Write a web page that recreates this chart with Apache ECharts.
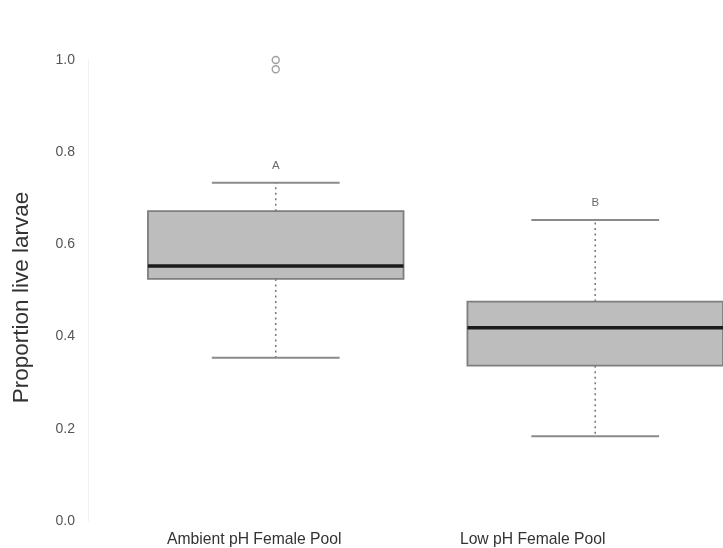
<!DOCTYPE html>
<html>
<head>
<meta charset="utf-8">
<script src="https://cdn.jsdelivr.net/npm/echarts@6/dist/echarts.min.js"></script>
<style>
  html, body { margin: 0; padding: 0; background: #ffffff; }
  #chart { width: 723px; height: 548px; }
</style>
</head>
<body>
<div id="chart"></div>
<script>
// Proportion of live larvae by female pool treatment (box-and-whisker summary)
const groups = ['Ambient pH Female Pool', 'Low pH Female Pool'];
const groupPos = [1, 2];
const whiskerLow = [0.354, 0.184];
const quartile1 = [0.525, 0.337];
const medians = [0.553, 0.419];
const quartile3 = [0.672, 0.476];
const whiskerHigh = [0.734, 0.653];

// Outlying observations
const outlierGroup = [0, 0];
const outlierValue = [1.0, 0.98];

// Significance letters placed above each group
const letterText = ['A', 'B'];
const letterValue = [0.77, 0.691];

const yTicks = [0, 0.2, 0.4, 0.6, 0.8, 1.0];

const boxData = groups.map((g, i) => [groupPos[i], whiskerLow[i], quartile1[i], medians[i], quartile3[i], whiskerHigh[i]]);
const outlierData = outlierValue.map((v, i) => [groupPos[outlierGroup[i]], v]);
const letterData = letterValue.map((v, i) => [groupPos[i], v]);

function renderBox(params, api) {
  const pos = api.value(0);
  const lo = api.coord([pos, api.value(1)]);
  const q1 = api.coord([pos, api.value(2)]);
  const med = api.coord([pos, api.value(3)]);
  const q3 = api.coord([pos, api.value(4)]);
  const hi = api.coord([pos, api.value(5)]);
  const boxW = api.size([0.8, 0])[0];
  const capW = boxW * 0.5;
  const cx = q1[0];
  const whiskerStyle = { stroke: '#7c7c7c', lineWidth: 1.6, lineDash: [2, 3.5] };
  const capStyle = { stroke: '#8a8a8a', lineWidth: 2 };
  return {
    type: 'group',
    children: [
      { type: 'line', shape: { x1: cx, y1: q3[1], x2: cx, y2: hi[1] }, style: whiskerStyle },
      { type: 'line', shape: { x1: cx, y1: q1[1], x2: cx, y2: lo[1] }, style: whiskerStyle },
      { type: 'line', shape: { x1: cx - capW / 2, y1: hi[1], x2: cx + capW / 2, y2: hi[1] }, style: capStyle },
      { type: 'line', shape: { x1: cx - capW / 2, y1: lo[1], x2: cx + capW / 2, y2: lo[1] }, style: capStyle },
      {
        type: 'rect',
        shape: { x: cx - boxW / 2, y: q3[1], width: boxW, height: q1[1] - q3[1] },
        style: { fill: '#bdbdbd', stroke: '#7e7e7e', lineWidth: 1.8 }
      },
      { type: 'line', shape: { x1: cx - boxW / 2, y1: med[1], x2: cx + boxW / 2, y2: med[1] }, style: { stroke: '#1c1c1c', lineWidth: 3.5 } }
    ]
  };
}

const chart = echarts.init(document.getElementById('chart'), null, { renderer: 'canvas' });
chart.setOption({
  backgroundColor: '#ffffff',
  animation: false,
  grid: { left: 116, right: 0, top: 60, bottom: 26.3, containLabel: false },
  xAxis: {
    type: 'value',
    // the second group's box runs to the right edge of the plot
    min: 0.5,
    max: 2.4,
    axisLine: { show: false },
    axisTick: { show: false },
    splitLine: { show: false },
    axisLabel: {
      margin: 11,
      customValues: groupPos,
      formatter: v => {
        const i = groupPos.indexOf(v);
        return i === 0 ? '{a|' + groups[0] + '}' : '{b|' + groups[1] + '}';
      },
      rich: {
        a: { fontFamily: 'Liberation Sans, Arial, sans-serif', fontSize: 15.7, color: '#333333', padding: [0, 43, 0, 0] },
        b: { fontFamily: 'Liberation Sans, Arial, sans-serif', fontSize: 15.7, color: '#333333', padding: [0, 125, 0, 0] }
      }
    }
  },
  yAxis: {
    type: 'value',
    min: 0,
    max: 1,
    interval: 0.2,
    offset: 28,
    name: 'Proportion live larvae',
    nameLocation: 'middle',
    nameGap: 55,
    nameTextStyle: { fontFamily: 'Liberation Sans, Arial, sans-serif', fontSize: 22.5, color: '#333333', padding: [0, 14, 0, 0] },
    axisLine: { show: true, lineStyle: { color: '#f1f1f1', width: 1 } },
    axisTick: { show: false },
    splitLine: { show: false },
    axisLabel: {
      margin: 13,
      fontFamily: 'Liberation Sans, Arial, sans-serif',
      fontSize: 14,
      color: '#555555',
      formatter: v => (yTicks.some(t => Math.abs(t - v) < 1e-9) ? v.toFixed(1) : '')
    }
  },
  series: [
    {
      type: 'custom',
      renderItem: renderBox,
      encode: { x: 0, y: [1, 2, 3, 4, 5] },
      data: boxData,
      clip: false,
      silent: true
    },
    {
      type: 'scatter',
      data: outlierData,
      symbol: 'circle',
      symbolSize: 7,
      clip: false,
      itemStyle: { color: 'rgba(255,255,255,0)', borderColor: '#888888', borderWidth: 1.4 },
      silent: true
    },
    {
      type: 'scatter',
      data: letterData,
      symbolSize: 0,
      clip: false,
      silent: true,
      label: {
        show: true,
        position: 'inside',
        formatter: p => letterText[p.dataIndex],
        fontFamily: 'Liberation Sans, Arial, sans-serif',
        fontSize: 11.5,
        color: '#444444'
      }
    }
  ]
});
</script>
</body>
</html>
